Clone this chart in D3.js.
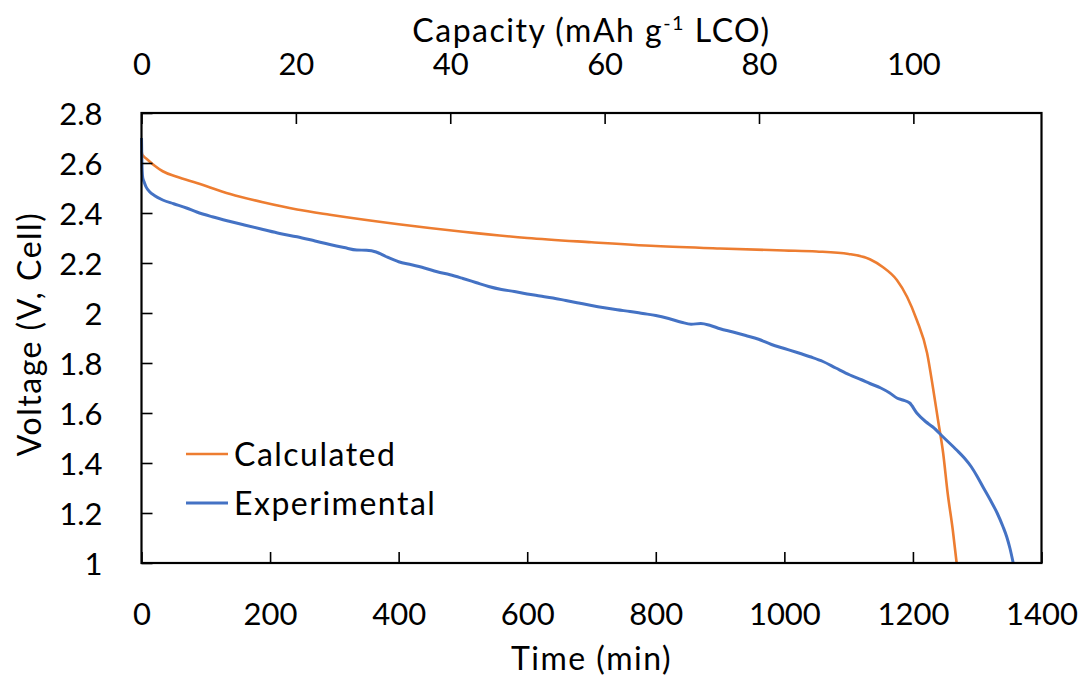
<!DOCTYPE html>
<html>
<head>
<meta charset="utf-8">
<script src="https://cdn.jsdelivr.net/npm/d3@7"></script>
<style>
  html, body { margin: 0; padding: 0; background: #fff; }
  svg { display: block; }
  text { font-family: Lato, "Open Sans", sans-serif; fill: #000; }
</style>
</head>
<body>
<svg id="chart" width="1085" height="680"></svg>
<script>
// Calculated discharge curve (time in min, cell voltage in V)
const timeCalc = [0, 1, 3, 10, 20, 33, 55, 86, 138, 189, 242, 293, 400, 500, 600, 700, 800, 900, 1000, 1050, 1100, 1133, 1153, 1175, 1191, 1206, 1222, 1231, 1239, 1247, 1254, 1262, 1268];
const voltCalc = [2.65, 2.635, 2.628, 2.612, 2.590, 2.567, 2.545, 2.520, 2.476, 2.443, 2.414, 2.393, 2.355, 2.325, 2.300, 2.283, 2.268, 2.258, 2.250, 2.246, 2.236, 2.215, 2.184, 2.132, 2.064, 1.972, 1.840, 1.704, 1.572, 1.440, 1.280, 1.132, 1.000];

// Experimental discharge curve
const timeExp = [0, 0.5, 1, 2, 4, 7, 13, 20, 33, 50, 70, 86, 110, 138, 160, 189, 215, 242, 270, 293, 315, 335, 350, 365, 380, 400, 420, 440, 460, 480, 500, 520, 540, 560, 580, 600, 620, 640, 660, 680, 700, 720, 740, 760, 780, 800, 820, 840, 855, 870, 885, 900, 920, 940, 960, 980, 1000, 1020, 1040, 1060, 1080, 1102, 1120, 1133, 1150, 1164, 1175, 1184, 1195, 1206, 1220, 1231, 1247, 1268, 1280, 1291, 1300, 1309, 1320, 1331, 1340, 1346, 1351, 1356];
const voltExp = [2.70, 2.62, 2.57, 2.54, 2.525, 2.505, 2.484, 2.47, 2.452, 2.437, 2.42, 2.404, 2.385, 2.366, 2.352, 2.334, 2.318, 2.305, 2.288, 2.274, 2.262, 2.252, 2.251, 2.244, 2.226, 2.205, 2.193, 2.180, 2.165, 2.153, 2.138, 2.122, 2.106, 2.094, 2.086, 2.076, 2.068, 2.060, 2.050, 2.040, 2.030, 2.021, 2.013, 2.006, 1.998, 1.990, 1.978, 1.963, 1.955, 1.958, 1.950, 1.937, 1.924, 1.910, 1.895, 1.874, 1.858, 1.842, 1.825, 1.806, 1.780, 1.752, 1.733, 1.718, 1.700, 1.680, 1.660, 1.652, 1.640, 1.600, 1.565, 1.544, 1.504, 1.452, 1.420, 1.384, 1.346, 1.304, 1.254, 1.200, 1.146, 1.104, 1.058, 1.000];

// Axis ticks
const timeTicks = [0, 200, 400, 600, 800, 1000, 1200, 1400];
const capacityTicks = [0, 20, 40, 60, 80, 100];
const voltTicks = [1, 1.2, 1.4, 1.6, 1.8, 2, 2.2, 2.4, 2.6, 2.8];
const voltTickLabels = ["1", "1.2", "1.4", "1.6", "1.8", "2", "2.2", "2.4", "2.6", "2.8"];

const seriesNames = ["Calculated", "Experimental"];
const seriesColors = ["#ED7D31", "#4472C4"];

const capacityMax = 116.6;

const svg = d3.select("#chart");
const m = { left: 141.5, top: 113, width: 900, height: 450 };
const FS = 31;      // tick labels
const TFS = 32;     // titles and legend
const LS = "1.5px"; // letter spacing for words

const x = d3.scaleLinear().domain([0, 1400]).range([0, m.width]);
const xTop = d3.scaleLinear().domain([0, capacityMax]).range([0, m.width]);
const y = d3.scaleLinear().domain([1, 2.8]).range([m.height, 0]);

const g = svg.append("g").attr("transform", `translate(${m.left},${m.top})`);

const line = d3.line()
  .x(d => x(d[0]))
  .y(d => y(d[1]))
  .curve(d3.curveMonotoneX);

const calc = timeCalc.map((t, i) => [t, voltCalc[i]]);
const exp = timeExp.map((t, i) => [t, voltExp[i]]);

g.append("path").datum(calc)
  .attr("fill", "none").attr("stroke", seriesColors[0])
  .attr("stroke-width", 2.6).attr("stroke-linejoin", "round")
  .attr("d", line);
g.append("path").datum(exp)
  .attr("fill", "none").attr("stroke", seriesColors[1])
  .attr("stroke-width", 3).attr("stroke-linejoin", "round")
  .attr("d", line);

// Axes with inward ticks
function styleAxis(sel) {
  sel.select(".domain").remove();
  sel.selectAll(".tick line").attr("stroke", "#000").attr("stroke-width", 1.6);
  sel.selectAll(".tick text").attr("font-size", FS).attr("font-family", "Lato, sans-serif").attr("fill", "#000");
}

const xAxisG = g.append("g").attr("transform", `translate(0,${m.height})`)
  .call(d3.axisBottom(x).tickValues(timeTicks).tickSizeInner(-11).tickSizeOuter(0).tickFormat(d3.format("d")));
styleAxis(xAxisG);
xAxisG.selectAll(".tick text").attr("y", 62).attr("dy", 0);

const xTopG = g.append("g")
  .call(d3.axisTop(xTop).tickValues(capacityTicks).tickSizeInner(-11).tickSizeOuter(0).tickFormat(d3.format("d")));
styleAxis(xTopG);
xTopG.selectAll(".tick text").attr("y", -38).attr("dy", 0);

const yAxisG = g.append("g")
  .call(d3.axisLeft(y).tickValues(voltTicks).tickSizeInner(-11).tickSizeOuter(0)
    .tickFormat((d, i) => voltTickLabels[i]));
styleAxis(yAxisG);
yAxisG.selectAll(".tick text").attr("x", -39).attr("dy", "0.36em");

// Plot frame
g.append("rect").attr("x", 0).attr("y", 0).attr("width", m.width).attr("height", m.height)
  .attr("fill", "none").attr("stroke", "#000").attr("stroke-width", 2.2);

// Axis titles
svg.append("text").attr("x", m.left + m.width / 2).attr("y", 670)
  .attr("text-anchor", "middle").attr("font-size", TFS).attr("letter-spacing", LS)
  .text("Time (min)");

const topTitle = svg.append("text").attr("x", m.left + m.width / 2).attr("y", 42)
  .attr("text-anchor", "middle").attr("font-size", TFS).attr("letter-spacing", LS);
topTitle.append("tspan").text("Capacity (mAh g");
topTitle.append("tspan").attr("font-size", TFS * 0.62).attr("dy", -12).text("-1");
topTitle.append("tspan").attr("dy", 12).text(" LCO)");

svg.append("text").attr("transform", `translate(41,${334}) rotate(-90)`)
  .attr("text-anchor", "middle").attr("font-size", TFS).attr("letter-spacing", LS)
  .text("Voltage (V, Cell)");

// Legend
const legend = svg.append("g");
seriesNames.forEach((name, i) => {
  const ly = 454 + i * 49;
  legend.append("line").attr("x1", 186).attr("x2", 228).attr("y1", ly).attr("y2", ly)
    .attr("stroke", seriesColors[i]).attr("stroke-width", i === 0 ? 2.6 : 3);
  legend.append("text").attr("x", 234).attr("y", ly).attr("dy", "0.36em")
    .attr("font-size", TFS).attr("letter-spacing", LS).text(name);
});
</script>
</body>
</html>
